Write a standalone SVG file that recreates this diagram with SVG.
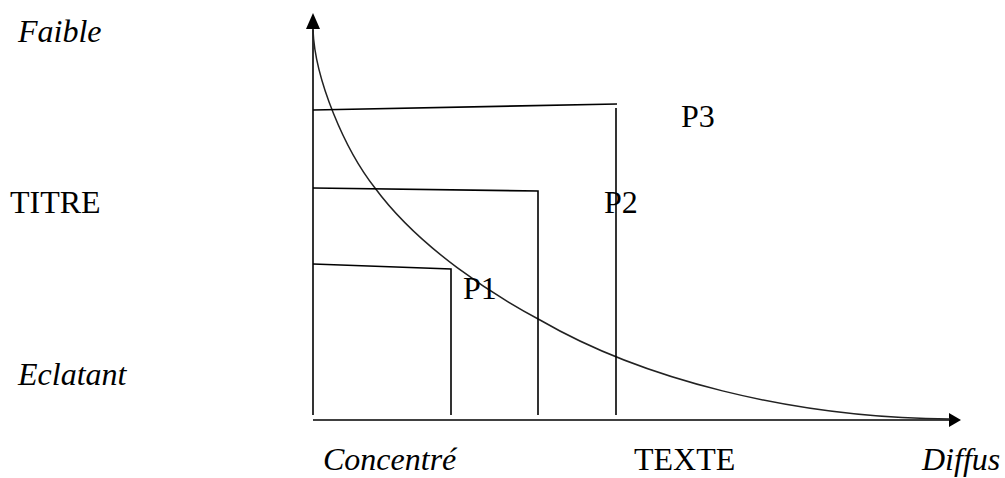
<svg xmlns="http://www.w3.org/2000/svg" width="1005" height="478" viewBox="0 0 1005 478">
<style>
.ln{stroke:#000;stroke-width:1.6;fill:none}
.gl{stroke:#222;stroke-width:1.5;fill:none}
.t{font-family:"Liberation Serif","Times New Roman",serif;font-size:32px;fill:#000}
.i{font-style:italic}
</style>
<rect width="1005" height="478" fill="#fff"/>
<g id="connectors">
  <line id="y-axis" class="ln" x1="313" y1="415" x2="313" y2="26"/>
  <polygon points="313,13 306,29 320,29" fill="#000"/>
  <line id="x-axis" class="ln" x1="313" y1="420" x2="950" y2="420" stroke-width="2.2"/>
  <polygon points="961,420 949,413 949,427" fill="#000"/>
  <path id="curve" class="gl" d="M313,30 C315,80 345,150 375,188 C420,249 495,296 540,320 C640,378 790,418 950,419"/>
  <polyline id="p3-box" class="ln" points="313,110 617,104"/>
  <line class="ln" x1="616" y1="108" x2="616" y2="415"/>
  <polyline id="p2-box" class="ln" points="313,188 538,191 538,415"/>
  <polyline id="p1-box" class="ln" points="313,264 451,269 451,415"/>
</g>
<g id="labels">
  <text id="faible" class="t i" x="18" y="42">Faible</text>
  <text id="titre" class="t" x="10" y="213">TITRE</text>
  <text id="eclatant" class="t i" x="18" y="385">Eclatant</text>
  <text id="concentre" class="t i" x="323" y="470">Concentré</text>
  <text id="texte" class="t" x="634" y="470">TEXTE</text>
  <text id="diffus" class="t i" x="922" y="470">Diffus</text>
  <text id="p1" class="t" x="463" y="299">P1</text>
  <text id="p2" class="t" x="604" y="213">P2</text>
  <text id="p3" class="t" x="681" y="127">P3</text>
</g>
</svg>
